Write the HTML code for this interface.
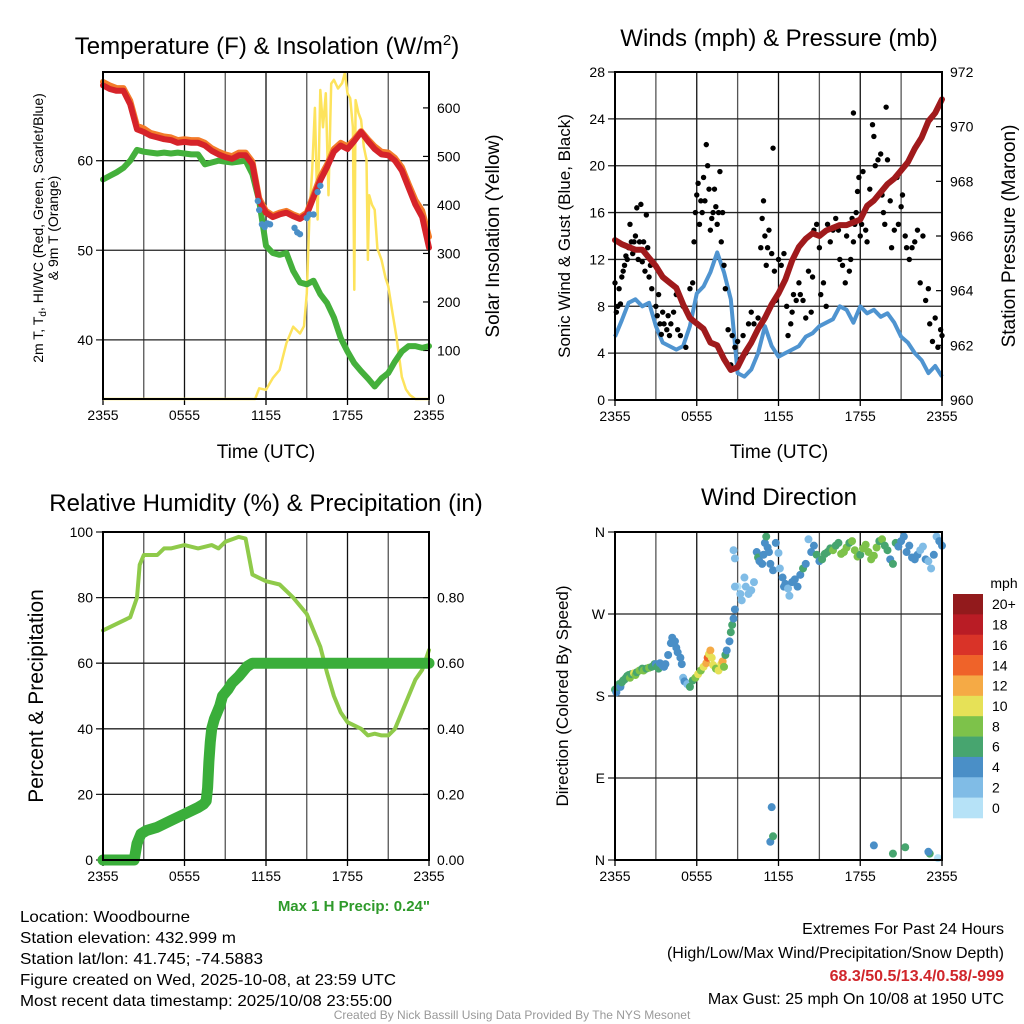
<!DOCTYPE html>
<html><head><meta charset="utf-8"><style>
html,body{margin:0;padding:0;background:#fff}
svg{display:block;font-family:"Liberation Sans",sans-serif}
</style></head><body>
<svg id="root" width="1024" height="1024" viewBox="0 0 1024 1024" xmlns="http://www.w3.org/2000/svg">
<rect x="0" y="0" width="1024" height="1024" fill="#fff"/>
<g id="layer"></g>
<g font-size="24" text-anchor="middle" fill="#000">
<text x="267" y="54">Temperature (F) &amp; Insolation (W/m<tspan dy="-9" font-size="15">2</tspan><tspan dy="9">)</tspan></text>
<text x="779" y="46">Winds (mph) &amp; Pressure (mb)</text>
<text x="266" y="511">Relative Humidity (%) &amp; Precipitation (in)</text>
<text x="779" y="505">Wind Direction</text>
</g>
<g font-size="19" text-anchor="middle">
<text x="266" y="458">Time (UTC)</text>
<text x="779" y="458">Time (UTC)</text>
<text transform="translate(499,236) rotate(-90)">Solar Insolation (Yellow)</text>
<text transform="translate(570,236) rotate(-90)" font-size="17">Sonic Wind &amp; Gust (Blue, Black)</text>
<text transform="translate(1015,236) rotate(-90)">Station Pressure (Maroon)</text>
<text transform="translate(43,696) rotate(-90)" font-size="21">Percent &amp; Precipitation</text>
<text transform="translate(568,696) rotate(-90)" font-size="17">Direction (Colored By Speed)</text>
</g>
<g font-size="14" text-anchor="middle">
<text transform="translate(43,228) rotate(-90)">2m T, T<tspan font-size="10" dy="3">d</tspan><tspan dy="-3">, HI/WC (Red, Green, Scarlet/Blue)</tspan></text>
<text transform="translate(58,228) rotate(-90)">&amp; 9m T (Orange)</text>
</g>
<text x="430" y="911" font-size="15" font-weight="bold" fill="#2e9a2a" text-anchor="end">Max 1 H Precip: 0.24"</text>
<text x="1004" y="588" font-size="14" text-anchor="middle">mph</text>
<g font-size="16">
<text x="20" y="922" textLength="170" lengthAdjust="spacingAndGlyphs">Location: Woodbourne</text>
<text x="20" y="943" textLength="216" lengthAdjust="spacingAndGlyphs">Station elevation: 432.999 m</text>
<text x="20" y="964" textLength="243" lengthAdjust="spacingAndGlyphs">Station lat/lon: 41.745; -74.5883</text>
<text x="20" y="985" textLength="376" lengthAdjust="spacingAndGlyphs">Figure created on Wed, 2025-10-08, at 23:59 UTC</text>
<text x="20" y="1006" textLength="372" lengthAdjust="spacingAndGlyphs">Most recent data timestamp: 2025/10/08 23:55:00</text>
<text x="1004" y="934" text-anchor="end">Extremes For Past 24 Hours</text>
<text x="1004" y="958" text-anchor="end">(High/Low/Max Wind/Precipitation/Snow Depth)</text>
<text x="1004" y="981" text-anchor="end" font-weight="bold" fill="#d0262b">68.3/50.5/13.4/0.58/-999</text>
<text x="1004" y="1004" text-anchor="end">Max Gust: 25 mph On 10/08 at 1950 UTC</text>
</g>
<text x="512" y="1019" font-size="12" fill="#999" text-anchor="middle">Created By Nick Bassill Using Data Provided By The NYS Mesonet</text>
</svg>
<script>
// ---- data ----
const xTickLabels = ["2355","0555","1155","1755","2355"];
const halfHours = [0,0.5,1,1.5,2,2.5,3,3.5,4,4.5,5,5.5,6,6.5,7,7.5,8,8.5,9,9.5,10,10.5,11,11.5,12,12.5,13,13.5,14,14.5,15,15.5,16,16.5,17,17.5,18,18.5,19,19.5,20,20.5,21,21.5,22,22.5,23,23.5,24];
const tempT = [68.4,68.0,67.8,67.8,66.3,63.5,63.2,62.8,62.6,62.4,62.3,62.0,62.1,62.0,62.0,61.7,61.1,60.7,60.4,60.2,60.6,60.6,59.6,55.5,54.2,53.7,54.0,54.2,53.8,53.5,54.0,55.9,57.8,59.3,61.0,61.7,61.3,62.2,63.2,62.2,61.3,60.7,60.6,60.0,58.9,57.0,55.1,53.7,50.3];
const temp9m = [68.8,68.4,68.1,68.1,66.7,63.9,63.6,63.1,62.9,62.7,62.6,62.3,62.4,62.3,62.3,62.0,61.4,61.0,60.7,60.5,60.9,60.9,59.9,55.8,54.4,53.9,54.2,54.4,54.0,53.7,54.2,56.2,58.2,59.6,61.3,62.0,61.6,62.4,63.3,62.4,61.6,61.0,60.9,60.3,59.3,57.4,55.6,54.4,51.5];
const dewT = [57.9,58.3,58.7,59.2,60.0,61.2,61.0,60.9,60.8,60.9,60.8,60.9,60.8,60.7,60.7,59.6,59.8,60.0,59.9,59.8,59.9,60.0,58.5,55.5,50.5,49.7,49.5,49.7,47.7,46.4,46.2,46.6,45.1,44.1,42.5,40.2,38.7,37.4,36.5,35.7,34.8,35.7,36.3,37.6,38.7,39.3,39.3,39.1,39.3];
const hiwcHours = [11.4,11.5,11.7,11.9,12.1,12.3,14.1,14.3,14.5,15.0,15.2,15.5,15.8,16.0];
const hiwcVals = [55.5,54.5,52.9,52.6,53.0,52.9,52.5,52.0,51.8,53.6,54.0,54.0,56.5,57.2];
const insolHours = [0,11.2,11.5,12,12.5,13,13.5,14,14.5,14.8,15,15.2,15.4,15.6,15.8,16,16.2,16.4,16.6,16.8,17,17.3,17.6,17.8,18,18.2,18.4,18.5,18.6,18.8,19,19.2,19.4,19.5,19.6,19.8,20,20.2,20.5,20.8,21,21.3,21.6,22,22.3,22.6,23,24];
const insolVals = [0,0,22,19,43,60,115,149,135,150,218,380,472,600,370,637,560,630,420,650,658,640,651,672,630,620,560,225,616,590,575,520,493,287,420,400,390,310,287,250,232,180,129,46,20,8,0,0];
const windVals = [5.4,6.8,8.3,8.6,8.0,8.3,6.3,4.9,4.6,4.3,4.6,6.3,9.1,9.7,10.9,12.6,10.9,8.6,2.3,2.0,2.6,4.0,6.3,4.6,3.7,4.0,4.3,4.6,5.4,5.7,6.3,6.6,6.9,8.0,7.7,6.6,8.0,7.4,7.7,7.1,7.4,6.6,5.4,4.9,4.0,3.4,2.3,2.9,2.0];
const pressVals = [965.85,965.7,965.6,965.5,965.5,965.2,964.9,964.5,964.3,964.1,963.5,963.0,962.8,962.6,962.1,962.0,961.5,961.1,961.2,961.7,962.1,962.6,963.0,963.5,963.9,964.4,965.1,965.6,965.9,966.1,966.0,966.2,966.3,966.4,966.4,966.5,966.6,967.1,967.3,967.6,967.9,968.1,968.4,968.7,969.2,969.6,970.2,970.5,971.0];
const gustHours = [0.0,0.1,0.2,0.3,0.4,0.5,0.6,0.7,0.8,0.9,1.0,1.1,1.2,1.3,1.4,1.5,1.6,1.7,1.8,1.9,2.0,2.1,2.2,2.3,2.4,2.5,2.6,2.7,3.0,3.1,3.2,3.3,3.4,3.5,3.6,3.8,3.9,4.0,4.1,4.3,4.5,4.6,4.8,5.0,5.2,5.5,5.7,5.8,5.9,6.0,6.1,6.2,6.3,6.4,6.5,6.6,6.7,6.8,6.9,7.0,7.1,7.2,7.3,7.4,7.5,7.6,7.7,7.8,7.9,8.0,8.1,8.3,8.5,8.6,8.8,9.0,9.2,9.4,9.6,9.8,10.0,10.2,10.5,10.7,10.8,10.9,11.0,11.1,11.2,11.3,11.5,11.6,11.7,11.8,12.0,12.2,12.4,12.6,12.7,12.9,13.0,13.1,13.3,13.5,13.6,13.8,14.0,14.2,14.4,14.5,14.6,14.8,15.0,15.1,15.3,15.5,15.6,15.8,16.0,16.2,16.4,16.5,16.7,16.9,17.0,17.2,17.3,17.4,17.5,17.5,17.6,17.7,17.8,17.9,18.0,18.1,18.2,18.4,18.5,18.7,18.9,19.0,19.1,19.3,19.5,19.6,19.7,19.8,19.9,20.0,20.2,20.3,20.5,20.7,20.8,21.0,21.1,21.3,21.4,21.6,21.8,22.0,22.2,22.4,22.6,22.8,23.0,23.1,23.3,23.5,23.7,23.9,24.0];
const gustVals = [10,7.5,8,9.5,8.2,10.5,11,11.5,12.3,12,13,15,13.5,12.5,13.5,14,16.4,12,13.5,16.7,11.8,13.5,11,15.8,13,10.5,11.5,9.5,8,7.2,9,6.5,5.6,7.5,6.5,6,7.2,5.5,6.5,7.5,9,6,5.5,8,4.5,9.5,10,13.5,16,17.5,18.5,15,17,16,19,17,21.8,20,18,14.5,15.5,16,18,16.5,15,16,19.5,13.5,16,11.5,9.5,6,3,5.5,4.5,5,3.5,5.5,4,6.5,7.5,6.5,7,13,15.5,17,14,11.5,13,14.5,12.5,21.5,11,8.5,12,11.5,12.5,8,5.5,6.5,7.5,9,8.5,10,9,8.5,7,11,7.5,10.5,14.5,15,13,9,10,8,15,13.5,14.5,15.5,14.5,12,11.5,10,14,11,12,15.5,13.5,24.5,15,16,17.8,19,14,15,19.5,14.5,13.5,18,23.5,22.5,20,20.5,21,17.5,16,15,25,20.5,17,13,14.5,19,15,16.5,17.5,14,13,12,13,13.5,14.5,10,14,8.5,9.5,6.5,5,7,4.5,6,5.5];
const rhHours = [0,2,2.5,2.7,3,4,4.5,5,6,7,8,8.5,9,10,10.5,11,11.5,12,13,14,15,15.5,16,16.5,17,17.5,18,19,19.5,20,20.5,21,21.5,22,22.5,23,23.5,24];
const rhVals = [70,74,80,90,93,93,95,95,96,95,96,95,97,98.5,98,87,86,85,84,80,75,70,65,57,50,45,42,40,38,38.5,38,38,40,45,50,55,58,64];
const precipHours = [0,0.5,1,1.5,2,2.3,2.5,2.8,3.2,4,5,6,7,7.4,7.6,7.7,7.8,7.9,8.0,8.2,8.4,8.6,8.8,9.2,9.5,10,10.6,11,12,13,14,15,16,17,18,19,20,21,22,23,24];
const precipVals = [0,0,0,0,0,0,0.05,0.08,0.09,0.1,0.12,0.14,0.16,0.17,0.18,0.22,0.3,0.36,0.4,0.43,0.45,0.47,0.5,0.52,0.54,0.56,0.59,0.6,0.6,0.6,0.6,0.6,0.6,0.6,0.6,0.6,0.6,0.6,0.6,0.6,0.6];
const dirHours = [0.0,0.1,0.2,0.3,0.4,0.5,0.6,0.7,0.8,0.9,1.0,1.1,1.2,1.4,1.5,1.6,1.8,2.0,2.1,2.3,2.5,2.7,2.9,3.0,3.1,3.2,3.3,3.5,3.6,3.7,3.9,4.1,4.2,4.4,4.5,4.6,4.8,4.9,5.0,5.1,5.3,5.5,5.7,5.9,6.1,6.3,6.5,6.7,6.8,6.9,7.0,7.1,7.2,7.4,7.6,7.8,7.9,8.0,8.1,8.2,8.4,8.5,8.6,8.7,8.8,8.8,9.0,9.2,9.3,9.5,9.6,9.8,10.0,10.2,10.4,10.5,10.6,10.8,10.9,11.0,11.1,11.2,11.3,11.4,11.6,11.8,12.0,12.1,12.3,12.4,12.5,12.7,12.8,13.0,13.2,13.4,13.6,13.8,14.0,14.2,14.4,14.6,14.8,15.0,15.2,15.4,15.6,15.8,16.0,16.2,16.4,16.6,16.8,17.0,17.2,17.4,17.6,17.8,18.0,18.2,18.4,18.6,18.8,19.0,19.2,19.4,19.6,19.8,20.0,20.2,20.4,20.6,20.8,21.0,21.2,21.4,21.6,21.8,22.0,22.2,22.4,22.6,22.8,23.0,23.2,23.4,23.6,23.8,24.0,8.8,8.7,11.5,11.4,11.6,19.0,20.4,21.3,23.1,23.0,23.7];
const dirVals = [187,184,190,193,190,195,197,198,200,202,203,200,204,205,203,206,208,210,208,210,211,212,215,215,212,210,216,213,212,215,225,238,244,240,233,228,222,215,200,196,193,190,197,200,204,208,212,216,222,226,230,222,214,210,208,215,218,212,225,230,240,250,258,265,275,331,300,292,285,310,300,292,296,305,338,332,328,325,335,348,355,343,338,325,318,348,337,320,310,300,303,298,290,305,308,300,313,320,325,352,338,345,335,328,330,336,338,342,340,345,348,336,338,343,348,350,340,333,335,342,346,338,330,334,343,350,352,345,340,330,325,348,344,350,355,338,345,332,330,335,340,344,330,328,320,335,355,350,345,300,340,58,20,26,16,7,14,7,9,2,66,112];
const dirSpeeds = [6,4,6,6,4,6,6,7,6,7,6,8,6,10,8,7,8,7,8,7,8,6,7,4,6,7,4,4,4,4,4,4,4,4,4,4,4,4,2,4,2,6,6,8,10,8,10,12,14,10,12,10,10,8,10,10,12,8,6,4,4,6,6,4,4,2,0,2,2,2,2,2,2,2,4,6,4,4,4,4,6,4,4,4,4,4,2,2,4,4,4,2,2,4,4,4,4,6,4,2,4,4,6,4,6,6,6,6,8,6,6,8,8,8,6,8,8,8,6,8,8,8,8,8,8,6,8,6,6,4,6,6,4,4,4,4,4,4,4,4,2,2,4,2,2,4,2,4,4,2,2,4,4,6,4,6,6,6,4,0,2,0];
const pTickLabels = ["960","962","964","966","968","970","972"];
const speedBinLabels = ["20+","18","16","14","12","10","8","6","4","2","0"];
const speedBinColors = ["#921a1c","#b91c25","#d93328","#ef6329","#f5aa45","#e6e157","#7dc24a","#47a56f","#4a8fc7","#80bce6","#b6e2f7"];

// ---- helpers ----
const NS = "http://www.w3.org/2000/svg";
const layer = document.getElementById("layer");
function mk(tag, attrs, parent){const e=document.createElementNS(NS,tag);for(const k in attrs)e.setAttribute(k,attrs[k]);(parent||layer).appendChild(e);return e;}
function xScale(p,h){return p.x0+(h/24)*(p.x1-p.x0);}
function yScale(p,v,lo,hi){return p.y1-(v-lo)/(hi-lo)*(p.y1-p.y0);}
function poly(p,xs,ys,lo,hi){return xs.map((h,i)=>xScale(p,h).toFixed(1)+","+yScale(p,ys[i],lo,hi).toFixed(1)).join(" ");}

const P1={x0:103,x1:429,y0:72,y1:399}, P2={x0:615,x1:942,y0:72,y1:400}, P3={x0:103,x1:429,y0:532,y1:860}, P4={x0:615,x1:942,y0:532,y1:860};

function gridX(p,name){
  for(let i=0;i<=8;i++){const x=xScale(p,i*3);
    const l=mk("line",{x1:x,y1:p.y0,x2:x,y2:p.y1,stroke:i%2?"#555":"#111","stroke-width":1.3});
    
    
  }
  xTickLabels.forEach((t,i)=>{const x=xScale(p,i*6);
    const tk=mk("line",{x1:x,y1:p.y1,x2:x,y2:p.y1+6,stroke:"#000","stroke-width":1.3});
    
    
    const tx=mk("text",{x:x,y:p.y1+21,"font-size":14,"text-anchor":"middle"});tx.textContent=t;
    
    
  });
}
function gridY(p,vals,lo,hi,name,labels,showLabels){
  vals.forEach((v,i)=>{const y=yScale(p,v,lo,hi);
    const l=mk("line",{x1:p.x0-7,y1:y,x2:p.x1,y2:y,stroke:"#222","stroke-width":1.3});
    
    
    if(showLabels){const tx=mk("text",{x:p.x0-10,y:y+5,"font-size":14,"text-anchor":"end"});tx.textContent=labels[i];
      
      }
  });
}
function rightTicks(p,vals,lo,hi,labels,name){
  vals.forEach((v,i)=>{const y=yScale(p,v,lo,hi);
    const tk=mk("line",{x1:p.x1-6,y1:y,x2:p.x1,y2:y,stroke:"#000","stroke-width":1.2});
    
    
    const tx=mk("text",{x:p.x1+8,y:y+5,"font-size":14});tx.textContent=labels[i];
    
    
  });
}
function frame(p,name){const r=mk("rect",{x:p.x0,y:p.y0,width:p.x1-p.x0,height:p.y1-p.y0,fill:"none",stroke:"#000","stroke-width":2});
  
  }

// ---- Panel 1: temperature ----
gridX(P1,"temp");
gridY(P1,[40,50,60],33.4,69.9,"temp",["40","50","60"],true);
rightTicks(P1,[0,100,200,300,400,500,600],0,674,["0","100","200","300","400","500","600"],"insolation");
let e;
e=mk("polyline",{points:poly(P1,insolHours,insolVals,0,674),fill:"none",stroke:"#fde35c","stroke-width":2.5,"stroke-linejoin":"round"});


e=mk("polyline",{points:poly(P1,halfHours,dewT,33.4,69.9),fill:"none",stroke:"#44b03b","stroke-width":6,"stroke-linejoin":"round","stroke-linecap":"round"});


e=mk("polyline",{points:poly(P1,halfHours,temp9m,33.4,69.9),fill:"none",stroke:"#f37c2a","stroke-width":6,"stroke-linejoin":"round","stroke-linecap":"round"});


e=mk("polyline",{points:poly(P1,halfHours,tempT,33.4,69.9),fill:"none",stroke:"#d6232a","stroke-width":6,"stroke-linejoin":"round","stroke-linecap":"round"});


hiwcHours.forEach((h,i)=>{const c=mk("circle",{cx:xScale(P1,h),cy:yScale(P1,hiwcVals[i],33.4,69.9),r:3.2,fill:"#4a8fc7"});
  
  });
frame(P1,"temp");

// ---- Panel 2: winds ----
gridX(P2,"wind");
gridY(P2,[0,4,8,12,16,20,24,28],0,28,"wind",["0","4","8","12","16","20","24","28"],true);
rightTicks(P2,[960,962,964,966,968,970,972],960,972,pTickLabels,"pressure");
e=mk("polyline",{points:poly(P2,halfHours,windVals,0,28),fill:"none",stroke:"#4f94d0","stroke-width":4,"stroke-linejoin":"round"});


gustHours.forEach((h,i)=>{const c=mk("circle",{cx:xScale(P2,h),cy:yScale(P2,gustVals[i],0,28),r:2.7,fill:"#000"});
  
  });
e=mk("polyline",{points:poly(P2,halfHours,pressVals,960,972),fill:"none",stroke:"#a01a1c","stroke-width":6,"stroke-linejoin":"round","stroke-linecap":"round"});


frame(P2,"wind");

// ---- Panel 3: RH & precip ----
gridX(P3,"rh");
gridY(P3,[0,20,40,60,80,100],0,100,"rh",["0","20","40","60","80","100"],true);
rightTicks(P3,[0,0.2,0.4,0.6,0.8],0,1,["0.00","0.20","0.40","0.60","0.80"],"precip");
e=mk("polyline",{points:poly(P3,rhHours,rhVals,0,100),fill:"none",stroke:"#8fca4a","stroke-width":4,"stroke-linejoin":"round","stroke-linecap":"round"});


e=mk("polyline",{points:poly(P3,precipHours,precipVals,0,1),fill:"none",stroke:"#3aae3a","stroke-width":11,"stroke-linejoin":"round","stroke-linecap":"round"});


frame(P3,"rh");

// ---- Panel 4: wind direction ----
gridX(P4,"dir");
gridY(P4,[0,90,180,270,360],0,360,"dir",["N","E","S","W","N"],true);
dirHours.forEach((h,i)=>{const s=dirSpeeds[i];let b=10-Math.floor(s/2);if(b<0)b=0;if(b>10)b=10;
  const c=mk("circle",{cx:xScale(P4,h),cy:yScale(P4,dirVals[i],0,360),r:4,fill:speedBinColors[b]});
  
  });
frame(P4,"dir");
// colorbar
const cb={x:953,y:594,w:30,h:224};
speedBinLabels.forEach((t,i)=>{const bh=cb.h/speedBinLabels.length;
  const r=mk("rect",{x:cb.x,y:cb.y+i*bh,width:cb.w,height:bh+0.3,fill:speedBinColors[i]});
  
  
  const tx=mk("text",{x:cb.x+39,y:cb.y+i*bh+bh/2+5,"font-size":14});tx.textContent=t;
  
  
});
</script>
</body></html>
